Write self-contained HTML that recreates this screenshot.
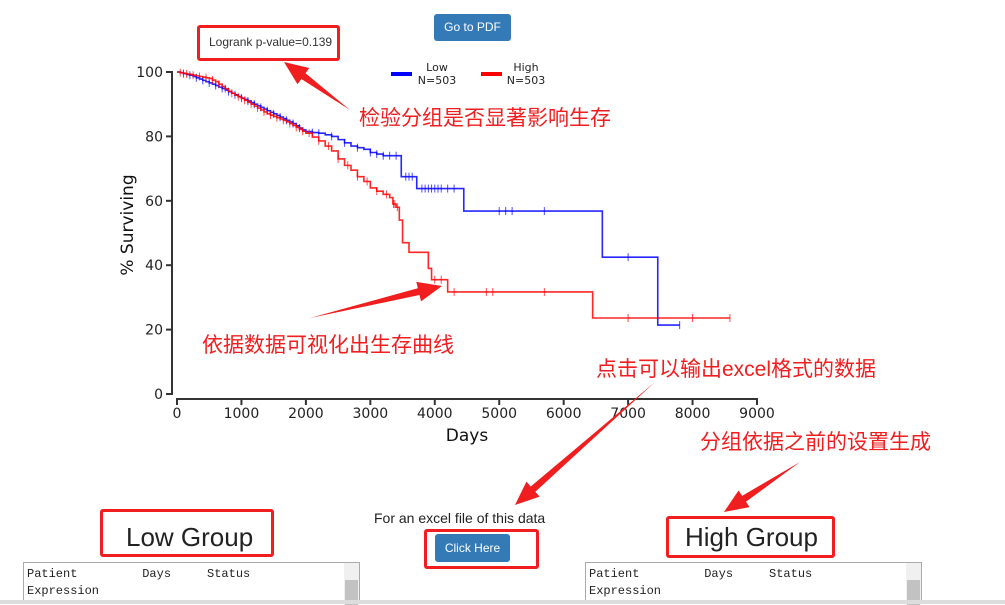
<!DOCTYPE html>
<html><head><meta charset="utf-8"><style>
body{margin:0;width:1005px;height:604px;background:#fff;overflow:hidden;position:relative;font-family:"Liberation Sans","Noto Sans CJK SC",sans-serif}
.btn{position:absolute;background:#337ab7;color:#fff;border-radius:3px;font-size:12px;text-align:center}
.rb{position:absolute;border:3px solid #f01e1e;border-radius:3px;box-sizing:border-box}
.ann{position:absolute;color:#f01e1e;font-size:21px;white-space:nowrap}
.tbl{position:absolute;border:1px solid #aaa;border-bottom:none;height:42px;background:#fff;font-family:"Liberation Mono","DejaVu Sans Mono",monospace;font-size:12px;color:#222;box-sizing:border-box;padding:3px 0 0 3px;line-height:17px}
.sb{position:absolute;right:0;top:0;width:15px;height:42px;background:#f0f0f0}
.sb div{position:absolute;left:1px;top:17px;width:13px;height:25px;background:#c2c2c2}
</style></head><body>
<div class="btn" style="left:434px;top:14px;width:77px;height:27px;line-height:27px">Go to PDF</div>
<div class="rb" style="left:197px;top:25px;width:143px;height:36px"></div>
<div style="position:absolute;left:209px;top:35px;font-size:12px;color:#333">Logrank p-value=0.139</div>
<svg id="chart" width="1005" height="604" style="position:absolute;left:0;top:0"></svg>
<div class="ann" style="left:359px;top:102px">检验分组是否显著影响生存</div>
<div class="ann" style="left:202px;top:329px">依据数据可视化出生存曲线</div>
<div class="ann" style="left:596px;top:353px">点击可以输出excel格式的数据</div>
<div class="ann" style="left:700px;top:426px">分组依据之前的设置生成</div>
<div class="rb" style="left:100px;top:509px;width:174px;height:48px"></div>
<div style="position:absolute;left:126px;top:522px;font-size:26px;color:#222">Low Group</div>
<div class="rb" style="left:666px;top:516px;width:169px;height:42px"></div>
<div style="position:absolute;left:685px;top:522px;font-size:26px;color:#222">High Group</div>
<div style="position:absolute;left:374px;top:510px;font-size:14px;color:#222">For an excel file of this data</div>
<div class="rb" style="left:424px;top:529px;width:115px;height:40px"></div>
<div class="btn" style="left:435px;top:534px;width:75px;height:28px;line-height:28px">Click Here</div>
<div class="tbl" style="left:23px;top:562px;width:337px">Patient&nbsp;&nbsp;&nbsp;&nbsp;&nbsp;&nbsp;&nbsp;&nbsp;&nbsp;Days&nbsp;&nbsp;&nbsp;&nbsp;&nbsp;Status<br>Expression<div class="sb"><div></div></div></div>
<div class="tbl" style="left:585px;top:562px;width:337px">Patient&nbsp;&nbsp;&nbsp;&nbsp;&nbsp;&nbsp;&nbsp;&nbsp;&nbsp;Days&nbsp;&nbsp;&nbsp;&nbsp;&nbsp;Status<br>Expression<div class="sb"><div></div></div></div>
<div style="position:absolute;left:0;top:600px;width:1005px;height:4px;background:#ddd"></div>
<script>
const xTicks=[0,1000,2000,3000,4000,5000,6000,7000,8000,9000];
const yTicks=[0,20,40,60,80,100];
const lowTimes=[0,50,100,150,200,250,300,350,400,450,500,550,600,650,700,750,800,850,900,950,1000,1050,1100,1150,1200,1250,1300,1350,1400,1450,1500,1550,1600,1650,1700,1750,1800,1850,1900,1950,2000,2100,2200,2300,2400,2500,2600,2700,2800,2900,3000,3100,3200,3480,3720,4450,6600,7460,7800];
const lowSurv=[100,99.8,99.5,99.2,99,98.6,98.2,97.8,97.4,97,96.6,96.2,95.8,95.3,94.9,94.4,93.9,93.4,92.9,92.4,91.9,91.5,91,90.5,90,89.5,89,88.5,88,87.5,87,86.5,86,85.5,85,84.5,84,83.3,82.6,82,81.5,81.2,81,80.5,80,79,78,77,76.5,76,75,74.5,74,67.5,63.8,56.8,42.5,21.4,21.4];
const highTimes=[0,50,100,150,200,250,300,350,400,450,500,550,600,650,700,750,800,850,900,950,1000,1050,1100,1150,1200,1250,1300,1350,1400,1450,1500,1550,1600,1650,1700,1750,1800,1850,1900,1950,2000,2100,2200,2300,2400,2500,2600,2700,2800,2900,3000,3100,3200,3300,3350,3400,3450,3500,3600,3900,3950,4200,6450,8580];
const highSurv=[100,99.8,99.6,99.4,99.2,99,98.8,98.6,98.4,98.2,98,97.5,97,96.2,95.5,94.8,94,93.4,92.8,92.3,91.8,91.2,90.6,90,89.4,88.8,88.2,87.6,87,86.6,86.2,85.8,85.4,85,84.5,84,83.4,82.8,82.2,81.6,81,79.8,78.6,77,75.5,73,71,69.5,67.5,66,64,63,62,61,59,58,54,47,44,39,35.5,31.7,23.6,23.6];
const lowCensor=[100,200,300,400,500,600,700,800,900,1000,1100,1200,1300,1400,1500,1600,1700,1800,1900,2100,2200,2400,2600,2800,3000,3100,3200,3300,3400,3550,3600,3650,3800,3850,3900,3950,4000,4050,4100,4200,4300,5000,5100,5200,5700,7000,7800];
const highCensor=[50,150,250,350,450,550,650,750,850,950,1050,1150,1250,1350,1450,1550,1650,1750,1850,1950,2050,2200,2350,2500,2650,2800,2950,3100,3250,3360,3380,3420,4000,4100,4300,4800,4900,5700,7000,8000,8580];
const sx=v=>177+v*(757-177)/9000, sy=v=>394-v*(394-72)/100;
const svg=document.getElementById('chart'),NS='http://www.w3.org/2000/svg';
function mk(t,a,p){const e=document.createElementNS(NS,t);for(const k in a)e.setAttribute(k,a[k]);(p||svg).appendChild(e);return e;}
let e;
e=mk('path',{d:`M166,${sy(100)}H172V${sy(0)}H166`,fill:'none',stroke:'#333','stroke-width':2});


e=mk('path',{d:`M${sx(0)},405V399H${sx(9000)}V405`,fill:'none',stroke:'#333','stroke-width':2});


yTicks.forEach(v=>{mk('line',{x1:166,x2:172,y1:sy(v),y2:sy(v),stroke:'#333','stroke-width':2});
 e=mk('text',{x:163,y:sy(v)+5,'text-anchor':'end','font-size':14,fill:'#222','font-family':'DejaVu Sans'});e.textContent=v;
 
 });
xTicks.forEach(v=>{mk('line',{x1:sx(v),x2:sx(v),y1:399,y2:405,stroke:'#333','stroke-width':2});
 e=mk('text',{x:sx(v),y:418,'text-anchor':'middle','font-size':14,fill:'#222','font-family':'DejaVu Sans'});e.textContent=v;
 
 });
e=mk('text',{x:467,y:441,'text-anchor':'middle','font-size':17,fill:'#111','font-family':'DejaVu Sans'});e.textContent='Days';


e=mk('text',{x:0,y:0,transform:'translate(133,225) rotate(-90)','text-anchor':'middle','font-size':17,fill:'#111','font-family':'DejaVu Sans'});e.textContent='% Surviving';


function curve(T,S,C,col,name){let d=`M${sx(T[0])},${sy(S[0])}`;
 for(let i=1;i<T.length;i++){d+=`H${sx(T[i])}V${sy(S[i])}`;}
 e=mk('path',{d,fill:'none',stroke:col,'stroke-width':1.6,opacity:.85});
 
 
 C.forEach(t=>{let j=0;for(let i=0;i<T.length;i++)if(T[i]<=t)j=i;const y=sy(S[j]);
  e=mk('line',{x1:sx(t),x2:sx(t),y1:y-4,y2:y+4,stroke:col,'stroke-width':1,opacity:.7});
  
  });}
curve(lowTimes,lowSurv,lowCensor,'#0000ff','low');
curve(highTimes,highSurv,highCensor,'#ff0000','high');
[['Low',391,'#0000ff',437],['High',481,'#ff0000',526]].forEach(([n,x,c,tx])=>{
 e=mk('rect',{x,y:72,width:21,height:4,fill:c});
 
 
 e=mk('text',{x:tx,y:71,'text-anchor':'middle','font-size':11,fill:'#222','font-family':'DejaVu Sans'});e.textContent=n;
 
 
 e=mk('text',{x:tx,y:84,'text-anchor':'middle','font-size':11,fill:'#222','font-family':'DejaVu Sans'});e.textContent='N=503';
 
 });
function arrow(x1,y1,x2,y2,name){const a=Math.atan2(y2-y1,x2-x1),L=24,W=10,bx=x2-L*Math.cos(a),by=y2-L*Math.sin(a),px=-Math.sin(a),py=Math.cos(a);
 e=mk('path',{d:`M${x1},${y1}L${bx+px*3.5},${by+py*3.5}L${bx+px*W},${by+py*W}L${x2},${y2}L${bx-px*W},${by-py*W}L${bx-px*3.5},${by-py*3.5}Z`,fill:'#f01e1e'});
 
 }
arrow(350,110,284,62,'arrow-to-pvalue');
arrow(310,318,442,286,'arrow-to-curve');
arrow(655,382,515,505,'arrow-to-click-here');
arrow(800,462,724,512,'arrow-to-high-group');
</script>
</body></html>
